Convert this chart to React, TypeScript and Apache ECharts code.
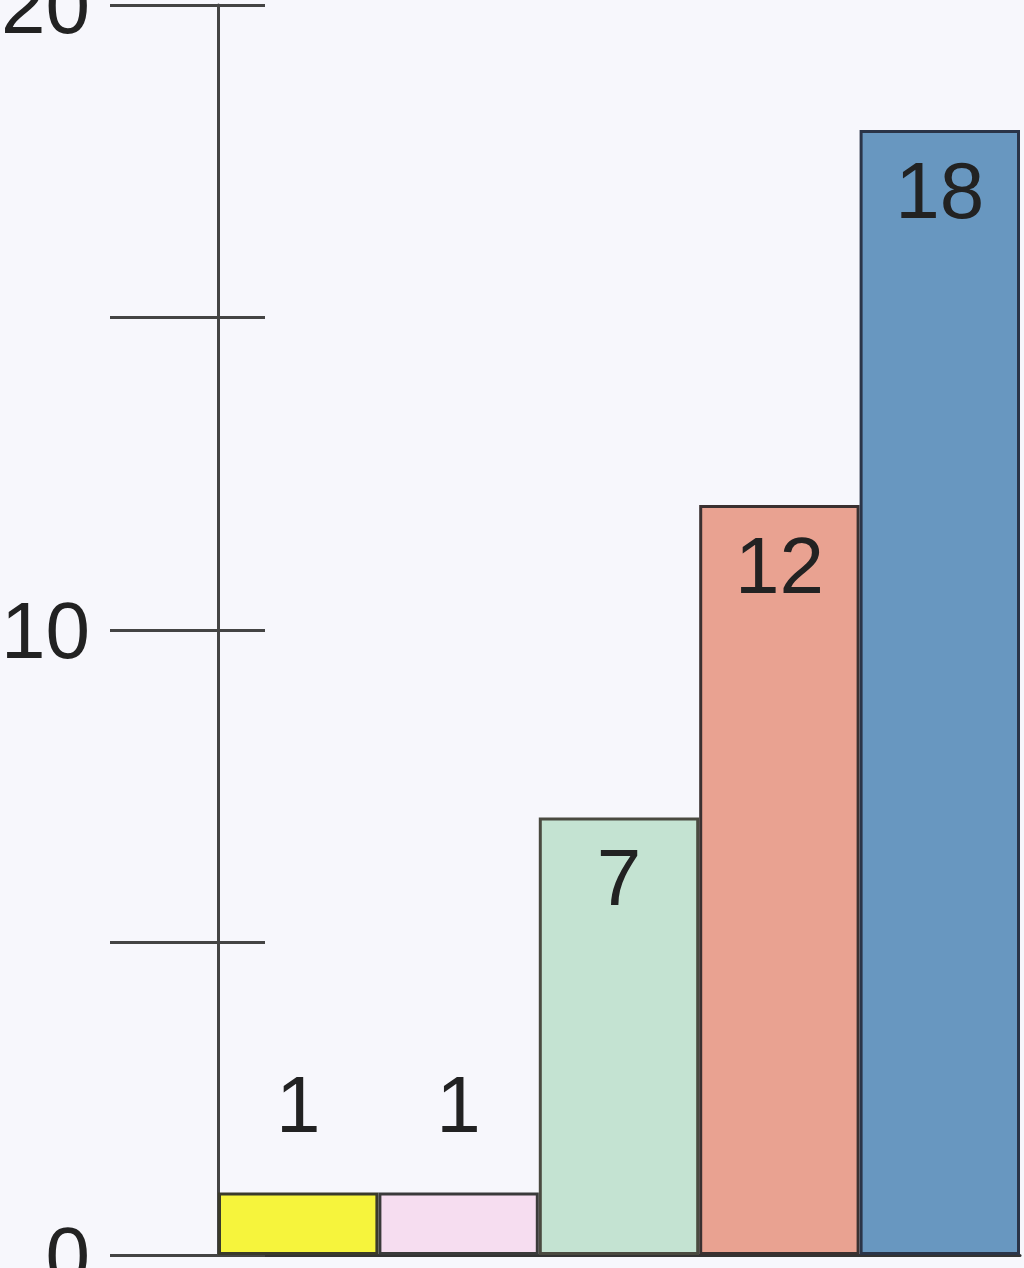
import React, { useEffect, useRef } from "react";
import * as echarts from "echarts";

const categories = ["A", "B", "C", "D", "E"];
const values = [1, 1, 7, 12, 18];
const yTickLabels = ["0", "10", "20"];

const barColors = ["#f6f43c", "#f6ddf0", "#c4e3d2", "#e9a291", "#6897c0"];
const barBorders = ["#3a3a2a", "#3a3a3a", "#4a4a40", "#3a3030", "#2a3448"];

export default function App() {
  const ref = useRef<HTMLDivElement>(null);
  useEffect(() => {
    if (!ref.current) return;
    const chart = echarts.init(ref.current, null, { renderer: "svg" });
    const font = "Liberation Sans, Arial, sans-serif";
    chart.setOption({
      animation: false,
      backgroundColor: "#f7f7fc",
      grid: { left: 218, right: 4, top: 5, bottom: 13, containLabel: false, outerBoundsMode: "none" },
      xAxis: {
        type: "category",
        data: categories,
        axisLine: { show: true, lineStyle: { color: "#333", width: 3 } },
        axisTick: { show: false },
        axisLabel: { show: false },
        splitLine: { show: false },
      },
      yAxis: [
        {
          type: "value",
          min: 0,
          max: 20,
          interval: 5,
          axisLine: { show: true, lineStyle: { color: "#444", width: 3 } },
          axisTick: { show: true, inside: false, length: 108, lineStyle: { color: "#444", width: 3 } },
          axisLabel: {
            show: true,
            margin: 128,
            fontSize: 80,
            fontFamily: font,
            color: "#222",
            formatter: (v: number) => (yTickLabels.includes(String(v)) ? String(v) : ""),
          },
          splitLine: { show: false },
        },
        {
          type: "value",
          min: 0,
          max: 20,
          interval: 5,
          position: "left",
          axisLine: { show: false },
          axisTick: { show: true, inside: true, length: 47, lineStyle: { color: "#444", width: 3 } },
          axisLabel: { show: false },
          splitLine: { show: false },
        },
      ],
      series: [
        {
          type: "bar",
          yAxisIndex: 0,
          barCategoryGap: "0%",
          data: values.map((v, i) => ({
            value: v,
            itemStyle: { color: barColors[i], borderColor: barBorders[i], borderWidth: 3 },
            label: {
              show: true,
              position: v < 3 ? "top" : "insideTop",
              distance: v < 3 ? 48 : 20,
              fontSize: 80,
              fontFamily: font,
              color: "#222",
            },
          })),
        },
      ],
    });
    return () => chart.dispose();
  }, []);
  return <div ref={ref} style={{ width: 1024, height: 1268, position: "absolute", left: 0, top: 0 }} />;
}
